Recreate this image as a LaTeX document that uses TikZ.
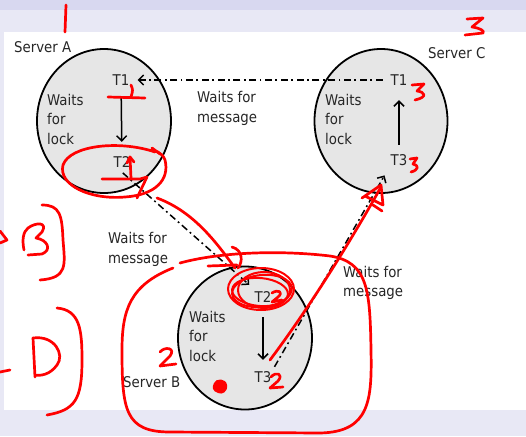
\documentclass[tikz,border=0pt]{standalone}
\usepackage{fontspec}
\setmainfont{DejaVu Sans Condensed}
\usetikzlibrary{arrows.meta,shapes.geometric}
\definecolor{lavA}{HTML}{D8D8F0}
\definecolor{lavB}{HTML}{E8E8F5}
\definecolor{cfill}{HTML}{E6E6E6}
\definecolor{ink}{HTML}{FF0000}
\begin{document}
\begin{tikzpicture}[x=1pt,y=-1pt,
  server/.style={draw=black, line width=1.8pt, fill=cfill, ellipse, inner sep=0pt},
  txt/.style={font=\fontsize{14.8}{19.5}\selectfont, text=black!85, inner sep=0pt},
  tx/.style={txt, minimum height=20pt, inner xsep=3pt},
  lbl/.style={txt, align=left, anchor=west},
  lockarrow/.style={draw=black, line width=1.5pt, -{Straight Barb[length=5pt,width=10pt]}},
  msgarrow/.style={draw=black, line width=1.5pt, dash pattern=on 7pt off 3.5pt on 1.8pt off 3.5pt, -{Straight Barb[length=5pt,width=10pt]}},
  redink/.style={draw=ink, line width=2.7pt, line cap=round, line join=round},
]
\useasboundingbox (0,0) rectangle (526,436);
\fill[lavB] (0,0) rectangle (526,436);
\fill[lavA] (0,0) rectangle (526,10);
\fill[white] (4,32) rectangle (526,410);

% servers
\node[server, minimum width=134pt, minimum height=144pt] (srvA) at (104,121) {};
\node[server, minimum width=133pt, minimum height=144pt] (srvC) at (381,121) {};
\node[server, minimum width=134pt, minimum height=143pt] (srvB) at (245,338) {};

% transactions
\node[tx] (T1A) at (121,80) {T1};
\node[tx] (T2A) at (122,162) {T2};
\node[tx] (T1C) at (399,80) {T1};
\node[tx] (T3C) at (399,160) {T3};
\node[tx] (T2B) at (263,297) {T2};
\node[tx] (T3B) at (263,377) {T3};

% labels
\node[lbl] (labA) at (14,47) {Server A};
\node[lbl] (labC) at (428,53) {Server C};
\node[lbl] (labB) at (123,382) {Server B};
\node[lbl] (lockA) at (47,119) {Waits\\for\\lock};
\node[lbl] (lockC) at (325,119) {Waits\\for\\lock};
\node[lbl] (lockB) at (189,336) {Waits\\for\\lock};
\node[lbl] (msgAC) at (197,108.5) {Waits for\\message};
\node[lbl] (msgAB) at (108,249.5) {Waits for\\message};
\node[lbl] (msgBC) at (343,283) {Waits for\\message};

% connectors
\draw[lockarrow, shorten <=8pt, shorten >=10pt] (T1A) -- (T2A);
\draw[lockarrow, shorten <=5pt, shorten >=10pt] (T3C) -- (T1C);
\draw[lockarrow, shorten <=10pt, shorten >=7pt] (T2B) -- (T3B);
\draw[msgarrow, shorten <=5pt, shorten >=5pt] (T1C) -- (T1A);
\draw[msgarrow, shorten <=1pt, shorten >=3pt] (T2A.south) -- (T2B.north west);
\draw[msgarrow, shorten >=6pt] (T3B.north east) -- (T3C.south west);

% red annotations
\draw[redink] (66,5) -- (65,32);
\draw[redink] (467,19) -- (483,18) -- (472,27) .. controls (480,28) and (485,31) .. (483,33) -- (465,35);
\draw[redink] (108,97) -- (145,98);
\draw[redink] (131,85) .. controls (133,90) .. (131,97);
\draw[redink] (155,152) .. controls (120,140) and (70,145) .. (63,165) .. controls (58,185) and (90,200) .. (125,197) .. controls (155,195) and (170,180) .. (165,160) .. controls (162,152) and (155,150) .. (148,150);
\draw[redink] (152,148) -- (160,154);
\draw[redink] (102,179) -- (140,179) -- (147,177);
\draw[redink] (130,157) -- (131,178);
\draw[redink] (127,163) -- (130,157) -- (134,162);
\draw[redink] (137,198) -- (147,177);
\draw[redink] (157,198) .. controls (195,212) and (218,245) .. (235,268);
\draw[redink] (208,266) -- (237,265);
\draw[redink] (232,247) .. controls (243,250) and (243,262) .. (238,268);
\draw[redink] (173,268) .. controls (130,285) and (122,310) .. (122,350) .. controls (122,410) and (125,432) .. (170,432) -- (320,433) .. controls (370,432) and (372,400) .. (371,350) .. controls (370,290) and (368,262) .. (330,256) .. controls (280,250) and (220,252) .. (180,263);
\draw[redink] (160,352) .. controls (165,346) and (176,348) .. (170,356) -- (160,366) -- (176,364);
\draw[redink, line width=2pt] (261,289) ellipse [x radius=33pt, y radius=21pt];
\draw[redink, line width=2pt, rotate around={6:(262,291)}] (262,291) ellipse [x radius=30pt, y radius=16pt];
\draw[redink, line width=2pt, rotate around={-5:(260,292)}] (260,292) ellipse [x radius=28pt, y radius=14pt];
\draw[redink, line width=2pt] (264,290) ellipse [x radius=26pt, y radius=18pt];
\draw[redink] (272,293) .. controls (278,289) and (284,292) .. (278,297) -- (272,302) -- (282,300);
\fill[ink] (214,383) .. controls (216,378) and (226,378) .. (227,385) .. controls (228,392) and (222,395) .. (218,393) .. controls (212,391) and (212,387) .. (214,383) -- cycle;
\draw[redink] (271,377) .. controls (276,371) and (284,374) .. (278,381) -- (270,388) -- (283,387);
\draw[redink] (270,360) .. controls (300,320) and (340,260) .. (381,187);
\draw[redink] (362,198) -- (381,185) -- (383,205) -- (365,196);
\draw[redink] (373,205) -- (382,211);
\draw[redink] (412,85) -- (424,84) -- (417,91) .. controls (425,92) and (428,97) .. (415,100);
\draw[redink] (410,159) -- (417,158) -- (413,164) .. controls (419,165) and (419,170) .. (411,172);
\draw[redink] (0,231) -- (7,240) -- (0,243);
\draw[redink] (24,250) .. controls (22,240) and (23,232) .. (28,228) .. controls (36,222) and (48,222) .. (42,232) -- (36,238) .. controls (48,240) and (52,250) .. (42,254) -- (28,255);
\draw[redink] (42,205) .. controls (60,205) and (62,215) .. (63,240) .. controls (65,265) and (68,278) .. (40,280);
\draw[redink] (33,338) -- (35,377);
\draw[redink] (33,338) .. controls (55,335) and (65,355) .. (57,365) .. controls (50,375) and (40,376) .. (35,375);
\draw[redink] (57,308) .. controls (80,310) and (82,330) .. (82,360) .. controls (82,400) and (75,410) .. (47,415);
\draw[redink] (0,372) -- (10,370);
\end{tikzpicture}
\end{document}
